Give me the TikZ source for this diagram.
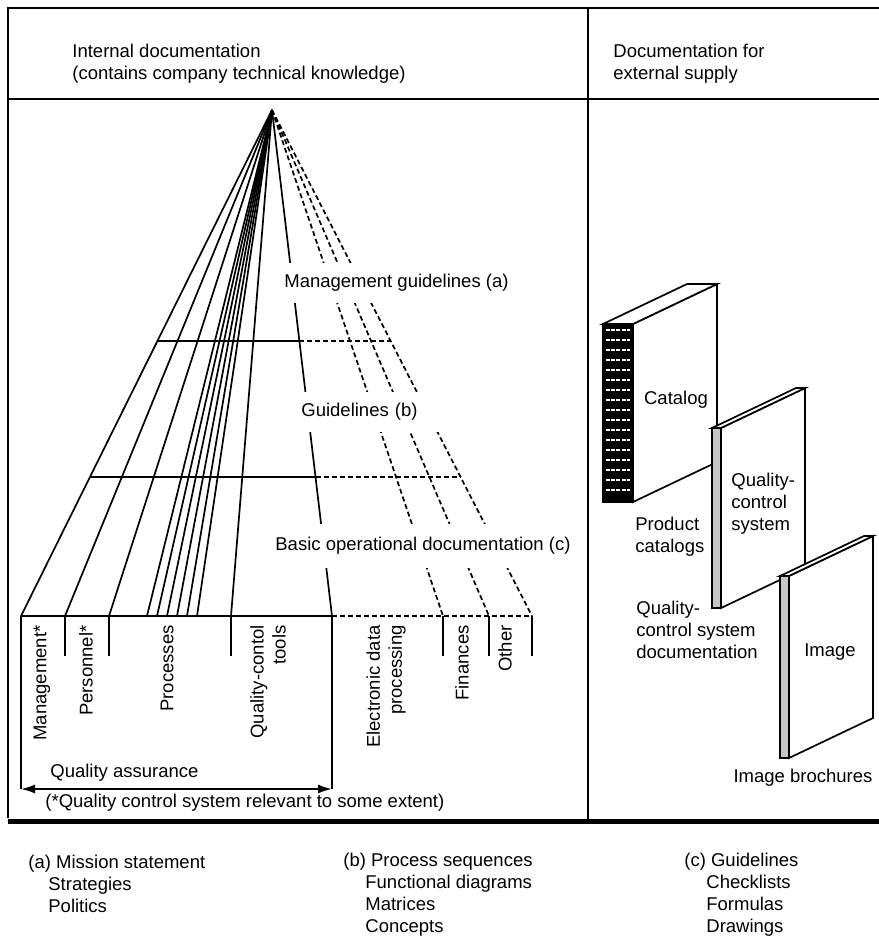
\documentclass[tikz,border=0pt]{standalone}
\usepackage{fontspec}
\setmainfont{Liberation Sans}
\usetikzlibrary{calc,arrows.meta}

\begin{document}
\begin{tikzpicture}[x=0.5pt,y=-0.5pt,
                    font=\fontsize{9.25pt}{11pt}\selectfont,
                    frame/.style={line width=1pt},
                    fan/.style={line width=0.85pt},
                    dashline/.style={line width=0.85pt,dash pattern=on 2.5pt off 1.5pt},
                    gap/.style={fill=white,inner xsep=1pt,inner ysep=0pt,anchor=west},
                    vlabel/.style={rotate=90,anchor=east,align=right,inner sep=0pt},
                    txt/.style={align=left,inner sep=0pt,anchor=west}]

\useasboundingbox (0,0) rectangle (879,938);

%frame
\draw[frame] (879,8) -- (8,8) -- (8,818);
\draw[frame] (8,99) -- (879,99);
\draw[frame] (588,8) -- (588,820);
\draw[line width=2.5pt] (8,821) -- (879,821);

%header
\node[txt] (intern) at (72,64) {Internal documentation\\(contains company technical knowledge)};
\node[txt] (extern) at (613,64) {Documentation for\\external supply};

%fan
\coordinate (apex) at (272,110);
\coordinate (m) at (21,616);
\coordinate (q) at (332,616);
\coordinate (o) at (532,616);
\foreach \x in {21,65,109,147,157,167,177,187,197,231,332}
  \draw[fan] (apex) -- (\x,616);
\foreach \x in {443,489,532}
  \draw[dashline] (apex) -- (\x,616);

%cross lines
\foreach \t in {0.4565,0.7253}{
  \draw[fan] ($(apex)!\t!(m)$) -- ($(apex)!\t!(q)$);
  \draw[dashline] ($(apex)!\t!(q)$) -- ($(apex)!\t!(o)$);
}
\draw[fan] (m) -- (q);
\draw[dashline] (q) -- (o);

%ticks and the quality assurance bracket
\foreach \x in {65,109,231,443,489,532}
  \draw[fan] (\x,616) -- (\x,656);
\draw[fan] (m) -- (21,789);
\draw[fan] (q) -- (332,789);
\draw[fan,{Latex[length=7pt,width=4.5pt]}-{Latex[length=7pt,width=4.5pt]}] (21,789) -- (332,789);

%levels
\node[gap,minimum height=20pt] (lvla) at (282,283) {Management guidelines (a)};
\node[gap,minimum height=20pt,text width=68pt,align=left] (lvlb) at (299,412) {Guidelines (b)};
\node[gap,minimum height=22pt] (lvlc) at (273,546) {Basic operational documentation (c)};

%columns
\node[vlabel] (mgmt) at (42,625) {Management*};
\node[vlabel] (pers) at (86,625) {Personnel*};
\node[vlabel] (proc) at (167,625) {Processes};
\node[vlabel] (tools) at (268,625) {Quality-contol\\tools};
\node[vlabel] (edp) at (386,625) {Electronic data\\processing};
\node[vlabel] (fin) at (462,625) {Finances};
\node[vlabel] (other) at (505,625) {Other};

\node[txt] (qa) at (50,773) {Quality assurance};
\node[txt] (note) at (45,803) {(*Quality control system relevant to some extent)};

%books: side, top, spine
\foreach \sx/\sy/\w/\h/\col in {603/324/30/178/black,712/428/9/180/gray!45,780/576/9/182/gray!45}{
  \draw[fan,fill=white] (\sx+\w,\sy) -- ++(84,-40) -- ++(0,\h) -- ++(-84,40) -- cycle;
  \draw[fan,fill=white] (\sx,\sy) -- ++(84,-40) -- ++(\w,0) -- ++(-84,40) -- cycle;
  \draw[fan,fill=\col] (\sx,\sy) rectangle ++(\w,\h);
}
%stripes on the catalog spine
\foreach \y in {330,340,...,496}
  \draw[white,line width=1.3pt,dash pattern=on 2pt off 0.6pt] (606,\y) -- (630,\y);

\node (catalog) at (676,400) {Catalog};
\node[txt] (prodcat) at (635,537) {Product\\catalogs};
\node[txt] (qcsys) at (731,504) {Quality-\\control\\system};
\node[txt] (qcdoc) at (636,630) {Quality-\\control system\\documentation};
\node (image) at (830,652) {Image};
\node (imgbro) at (803,778) {Image brochures};

%legend
\node[txt] (lista) at (28,884) {(a) Mission statement\\\hspace*{10pt}Strategies\\\hspace*{10pt}Politics};
\node[txt] (listb) at (343,895) {(b) Process sequences\\\hspace*{11pt}Functional diagrams\\\hspace*{11pt}Matrices\\\hspace*{11pt}Concepts};
\node[txt] (listc) at (684,895) {(c) Guidelines\\\hspace*{11pt}Checklists\\\hspace*{11pt}Formulas\\\hspace*{11pt}Drawings};

\end{tikzpicture}
\end{document}
